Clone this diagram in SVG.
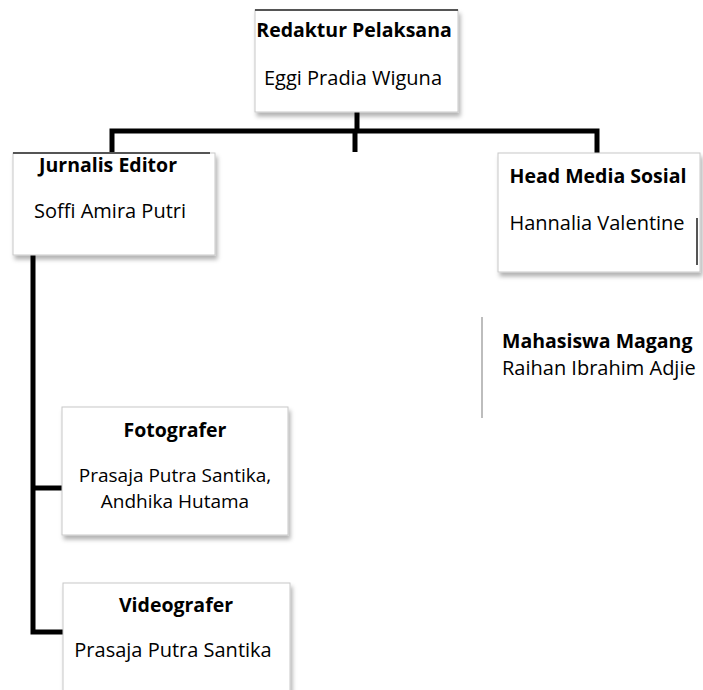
<svg xmlns="http://www.w3.org/2000/svg" width="703" height="690" viewBox="0 0 703 690">
  <style>
    .box { fill: #ffffff; stroke: #c8c8c8; stroke-width: 1; filter: url(#shadow); }
    .title { font-family: "Open Sans", "Noto Sans", sans-serif; font-weight: bold; font-size: 19.5px; fill: #000; text-anchor: middle; }
    .name { font-family: "Open Sans", "Noto Sans", sans-serif; font-size: 20px; fill: #000; text-anchor: middle; }
    .tight { font-size: 19px; }
    .left { text-anchor: start; }
    .conn { stroke: #000; stroke-width: 5; fill: none; stroke-linecap: butt; stroke-linejoin: miter; }
    .edge { stroke: #555; stroke-width: 2; fill: none; }
  </style>
  <defs>
    <filter id="shadow" x="-10%" y="-10%" width="125%" height="130%">
      <feDropShadow dx="2" dy="4" stdDeviation="2" flood-color="#000" flood-opacity="0.3"/>
    </filter>
  </defs>
  <rect width="703" height="690" fill="#ffffff"/>

  <g id="connectors">
    <path class="conn" d="M357,112 V131"/>
    <path class="conn" d="M112,153 V131 H597 V155"/>
    <path class="conn" d="M355,131 V152"/>
    <path class="conn" d="M33,255 V632 H63"/>
    <path class="conn" d="M33,488 H62"/>
  </g>

  <g id="redaktur-pelaksana">
    <rect class="box" x="255" y="10" width="203" height="102"/>
    <line class="edge" x1="255" y1="10" x2="458" y2="10" stroke="#777" stroke-width="1.5"/>
    <text class="title" x="354" y="37">Redaktur Pelaksana</text>
    <text class="name" x="353" y="85">Eggi Pradia Wiguna</text>
  </g>

  <g id="jurnalis-editor">
    <rect class="box" x="13" y="153" width="202" height="102"/>
    <line class="edge" x1="13" y1="153" x2="210" y2="153"/>
    <text class="title" x="108" y="172">Jurnalis Editor</text>
    <text class="name" x="110" y="218">Soffi Amira Putri</text>
  </g>

  <g id="head-media-sosial">
    <rect class="box" x="498" y="153" width="202" height="119"/>
    <line class="edge" x1="697" y1="218" x2="697" y2="265" stroke="#000"/>
    <text class="title" x="598" y="183">Head Media Sosial</text>
    <text class="name" x="597" y="230">Hannalia Valentine</text>
  </g>

  <g id="mahasiswa-magang">
    <line x1="482" y1="317" x2="482" y2="418" stroke="#bdbdbd" stroke-width="2"/>
    <text class="title left" x="502" y="348">Mahasiswa Magang</text>
    <text class="name left" x="502" y="375">Raihan Ibrahim Adjie</text>
  </g>

  <g id="fotografer">
    <rect class="box" x="62" y="407" width="226" height="128"/>
    <text class="title" x="175" y="437">Fotografer</text>
    <text class="name tight" x="175" y="482">Prasaja Putra Santika,</text>
    <text class="name tight" x="175" y="508">Andhika Hutama</text>
  </g>

  <g id="videografer">
    <rect class="box" x="63" y="583" width="227" height="130"/>
    <text class="title" x="176" y="612">Videografer</text>
    <text class="name" x="173" y="657">Prasaja Putra Santika</text>
  </g>
</svg>
